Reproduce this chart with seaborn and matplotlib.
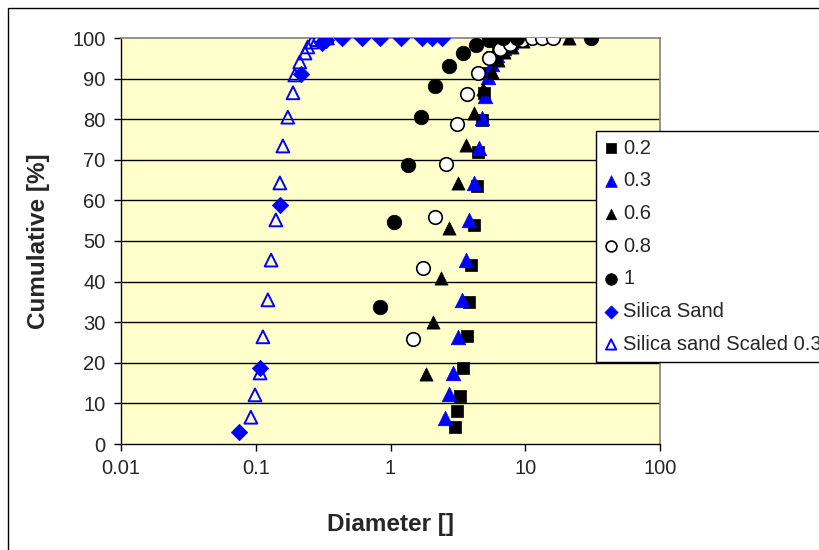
import matplotlib
matplotlib.use("Agg")
import matplotlib.pyplot as plt
import seaborn as sns
import pandas as pd
from matplotlib.patches import Rectangle

# ---------------- data ----------------
s02_x = [3.01, 3.12, 3.28, 3.45, 3.70, 3.83, 3.96, 4.17, 4.39, 4.46, 4.78, 4.98, 5.25, 5.7, 6.3, 6.9, 7.6]
s02_y = [4.2, 8.1, 11.8, 18.7, 26.6, 35.0, 44.1, 53.9, 63.5, 71.9, 79.8, 86.5, 91.4, 95.3, 97.6, 99.2, 100]

s03_x = [2.54, 2.72, 2.91, 3.17, 3.39, 3.63, 3.83, 4.17, 4.54, 4.80, 5.00, 5.3, 5.7, 6.2, 6.9, 7.9, 9.2]
s03_y = [6.4, 12.3, 17.5, 26.4, 35.5, 45.3, 55.2, 64.3, 72.9, 80.2, 85.8, 90.5, 93.5, 95.8, 97.5, 99.0, 100]

s06_x = [1.83, 2.07, 2.37, 2.72, 3.17, 3.63, 4.17, 4.86, 5.66, 6.28, 6.99, 7.97, 9.62, 21.1]
s06_y = [17.2, 30.1, 40.9, 53.2, 64.3, 73.6, 81.6, 87.5, 91.6, 94.6, 96.5, 97.7, 99.3, 100]

s08_x = [1.47, 1.74, 2.14, 2.58, 3.12, 3.70, 4.46, 5.38, 6.50, 7.71, 9.46, 11.2, 13.3, 16.1]
s08_y = [25.9, 43.3, 55.9, 68.9, 78.8, 86.2, 91.3, 95.1, 97.3, 98.5, 99.4, 100, 100, 100]

s1_x = [0.84, 1.06, 1.35, 1.68, 2.14, 2.72, 3.45, 4.31, 5.38, 6.84, 8.69, 30.8]
s1_y = [33.8, 54.7, 68.6, 80.5, 88.2, 93.1, 96.3, 98.3, 99.5, 100, 100, 100]

sand_x = [0.075, 0.107, 0.151, 0.215, 0.31, 0.33, 0.436, 0.614, 0.836, 1.20, 1.71, 2.03, 2.41]
sand_y = [3.0, 18.8, 58.9, 91.2, 98.8, 99.6, 100, 100, 100, 100, 100, 100, 100]

scaled_x = [0.092, 0.0987, 0.1076, 0.113, 0.123, 0.130, 0.141, 0.151, 0.159, 0.173, 0.189,
            0.195, 0.212, 0.232, 0.243, 0.261, 0.285, 0.313, 0.34]
scaled_y = [6.6, 12.1, 17.5, 26.4, 35.5, 45.3, 55.2, 64.3, 73.4, 80.5, 86.5,
            90.9, 94.1, 96.3, 97.8, 99.0, 99.6, 100, 100]

labels = ["0.2", "0.3", "0.6", "0.8", "1", "Silica Sand", "Silica sand Scaled 0.3"]
xs = [s02_x, s03_x, s06_x, s08_x, s1_x, sand_x, scaled_x]
ys = [s02_y, s03_y, s06_y, s08_y, s1_y, sand_y, scaled_y]

x_ticks = [0.01, 0.1, 1, 10, 100]
x_ticklabels = ["0.01", "0.1", "1", "10", "100"]
y_ticks = [0, 10, 20, 30, 40, 50, 60, 70, 80, 90, 100]

# ---------------- style ----------------
sns.set_theme(style="white")
plt.rcParams['font.family'] = ['Liberation Sans', 'DejaVu Sans']

styles = [
    dict(marker="s", s=75, color="black", edgecolor="black", linewidth=0.5),
    dict(marker="^", s=110, color="#0000FF", edgecolor="#0000FF", linewidth=0.5),
    dict(marker="^", s=90, color="black", edgecolor="black", linewidth=0.5),
    dict(marker="o", s=95, color="white", edgecolor="black", linewidth=1.2),
    dict(marker="o", s=110, color="black", edgecolor="black", linewidth=0.5),
    dict(marker="D", s=70, color="#0000FF", edgecolor="#0000FF", linewidth=0.5),
    dict(marker="^", s=85, color="none", edgecolor="#0000FF", linewidth=1.4),
]

fig = plt.figure(figsize=(8.2, 5.5), dpi=100)
fig.patch.set_facecolor("white")
ax = fig.add_axes([121 / 820, 106 / 550, 539 / 820, 406 / 550])
ax.set_facecolor("#FFFFCC")

for lab, x, y, st in zip(labels, xs, ys, styles):
    df = pd.DataFrame({"Diameter": x, "Cumulative": y})
    sns.scatterplot(data=df, x="Diameter", y="Cumulative", ax=ax, label=lab,
                    zorder=3, **st)

ax.set_xscale("log")
ax.set_xlim(0.01, 100)
ax.set_ylim(0, 100)
ax.set_xticks(x_ticks)
ax.set_xticklabels(x_ticklabels)
ax.set_yticks(y_ticks)
ax.xaxis.set_minor_locator(matplotlib.ticker.NullLocator())
for yv in y_ticks[1:-1]:
    ax.axhline(yv, color="black", lw=1.0, zorder=1)

ax.tick_params(axis="both", which="major", direction="out", length=5, width=1,
               color="black", labelsize=14.5, pad=6, bottom=True, left=True)
for side in ["top", "right"]:
    ax.spines[side].set_color("#808080")
    ax.spines[side].set_linewidth(1.2)
for side in ["left", "bottom"]:
    ax.spines[side].set_color("black")
    ax.spines[side].set_linewidth(1.0)

ax.set_xlabel("Diameter []", fontsize=17.5, fontweight="bold", labelpad=25)
ax.set_ylabel("Cumulative [%]", fontsize=17.5, fontweight="bold", labelpad=16)

leg = ax.legend(loc="upper left", bbox_to_anchor=(596 / 820, 1 - 130.5 / 550),
                bbox_transform=fig.transFigure, frameon=True, fancybox=False,
                fontsize=14.5, markerscale=0.8, handlelength=0.7, handletextpad=0.25,
                labelspacing=0.68, borderpad=0.4, borderaxespad=0)
leg.get_frame().set_edgecolor("black")
leg.get_frame().set_linewidth(1.0)
leg.get_frame().set_facecolor("white")
leg.get_frame().set_alpha(1)

fig.patches.append(Rectangle((8 / 820, -0.1), 1.2, 1 - 8 / 550 + 0.1,
                             transform=fig.transFigure, fill=False,
                             edgecolor="black", linewidth=1.0, zorder=0))

fig.savefig("out.png", dpi=100)
